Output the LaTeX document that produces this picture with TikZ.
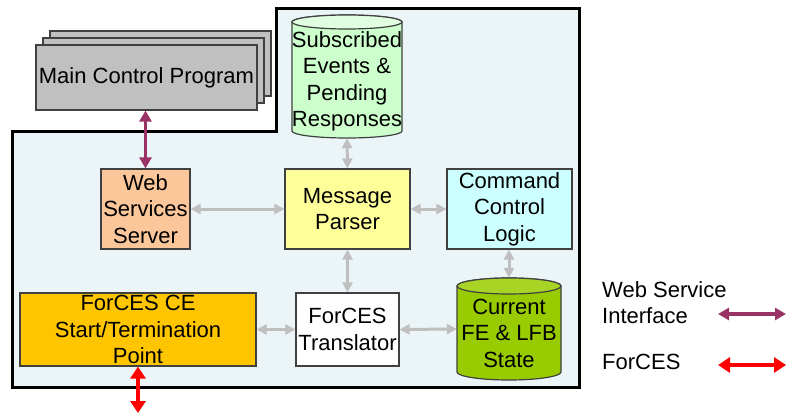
\documentclass[tikz,border=0pt]{standalone}
\usepackage{fontspec}
\setmainfont{Liberation Sans}
\usetikzlibrary{arrows.meta}
\definecolor{panelbg}{HTML}{EBF5F8}
\definecolor{mcpgray}{HTML}{C0C0C0}
\definecolor{peach}{HTML}{FBC69A}
\definecolor{paleyellow}{HTML}{FFFF99}
\definecolor{paleblue}{HTML}{CCFFFF}
\definecolor{amber}{HTML}{FFC600}
\definecolor{palegreen}{HTML}{CCFFCC}
\definecolor{leafgreen}{HTML}{99CC00}
\definecolor{linkgray}{HTML}{BFBFBF}
\definecolor{wsplum}{HTML}{993366}
\definecolor{boxedge}{HTML}{404040}
\tikzset{
  lbl/.style={font=\fontsize{22}{26.5}\selectfont, align=center, inner sep=0pt},
  block/.style={lbl, draw=boxedge, line width=1.2pt},
  stackbox/.style={draw=boxedge, line width=1.2pt, fill=mcpgray, minimum width=221pt, minimum height=65pt, inner sep=0pt},
  cylbody/.style={lbl},
  cylpath/.style={draw=boxedge, line width=1.2pt},
  internal/.style={draw=linkgray, line width=3pt, {Triangle[length=10pt,width=10pt]}-{Triangle[length=10pt,width=10pt]}},
  wslink/.style={draw=wsplum, line width=3.5pt, {Triangle[length=11pt,width=12pt]}-{Triangle[length=11pt,width=12pt]}},
  forceslink/.style={draw=red, line width=4.5pt, {Triangle[length=12pt,width=15pt]}-{Triangle[length=12pt,width=15pt]}},
}
\begin{document}
\begin{tikzpicture}[x=1pt,y=1pt]
\useasboundingbox (0,0) rectangle (786,-414);

% control element panel
\filldraw[fill=panelbg, draw=black, line width=3pt, line join=miter]
  (12,-132) -- (276,-132) -- (276,-9) -- (579,-9) -- (579,-387) -- (12,-387) -- cycle;

% stacked main control programs
\node[stackbox] (mcp3) at (160.5,-63.5) {};
\node[stackbox] (mcp2) at (153.5,-70.5) {};
\node[stackbox, lbl] (mcp) at (146.5,-77.5) {Main Control Program};

% subscribed events store (cylinder)
\node[cylbody, minimum width=110pt, minimum height=123pt] (subs) at (347,-76.5) {};
\filldraw[cylpath, fill=palegreen]
  (292,-22) -- (292,-131) arc[start angle=180, end angle=360, x radius=55, y radius=7]
  -- (402,-22) arc[start angle=0, end angle=180, x radius=55, y radius=7] -- cycle;
\draw[cylpath, fill=palegreen!60!white] (347,-22) ellipse[x radius=55, y radius=7];
\node[lbl] at (347,-81.5) {Subscribed\\Events \&\\Pending\\Responses};

% current FE state store (cylinder)
\node[cylbody, minimum width=104pt, minimum height=102pt] (state) at (509,-329) {};
\filldraw[cylpath, fill=leafgreen]
  (457,-286) -- (457,-372) arc[start angle=180, end angle=360, x radius=52, y radius=8]
  -- (561,-286) arc[start angle=0, end angle=180, x radius=52, y radius=8] -- cycle;
\draw[cylpath, fill=leafgreen!85!white] (509,-286) ellipse[x radius=52, y radius=8];
\node[lbl] at (509,-333) {Current\\FE \& LFB\\State};

% processing blocks
\node[block, fill=peach, minimum width=89pt, minimum height=80pt] (wss) at (145.5,-209) {Web\\Services\\Server};
\node[block, fill=paleyellow, minimum width=125pt, minimum height=80pt] (parser) at (347.5,-209) {Message\\Parser};
\node[block, fill=paleblue, minimum width=125pt, minimum height=80pt] (ccl) at (509.5,-209) {Command\\Control\\Logic};
\node[block, fill=amber, minimum width=236pt, minimum height=73pt] (cept) at (138,-329.5) {ForCES CE\\Start/Termination\\Point};
\node[block, fill=white, minimum width=103pt, minimum height=73pt] (xlat) at (347.5,-329.5) {ForCES\\Translator};

% internal links
\draw[internal] (parser.north) -- (subs.south);
\draw[internal] (wss.east) -- (parser.west);
\draw[internal] (parser.east) -- (ccl.west);
\draw[internal] (parser.south) -- (xlat.north);
\draw[internal] (ccl.south -| state.north) -- (state.north);
\draw[internal] (cept.east) -- (xlat.west);
\draw[internal] (xlat.east) -- (state.west);

% external interfaces
\draw[wslink] (mcp.south -| wss.north) -- (wss.north);
\coordinate (feside) at (138,-413);
\draw[forceslink] (cept.south) -- (feside);

% legend
\node[lbl, align=left, anchor=west] (legws) at (602,-302.5) {Web Service\\Interface};
\node[lbl, anchor=west] (legfc) at (602,-362) {ForCES};
\coordinate (wsL) at (718,-314);
\coordinate (wsR) at (786,-314);
\coordinate (fcL) at (718,-365);
\coordinate (fcR) at (786,-365);
\draw[wslink] (wsL) -- (wsR);
\draw[forceslink] (fcL) -- (fcR);
\end{tikzpicture}
\end{document}
